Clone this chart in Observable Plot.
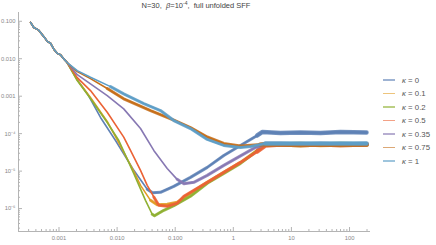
<!DOCTYPE html>
<html><head><meta charset="utf-8">
<style>
body{margin:0;background:#fff}
#wrap{position:relative;width:436px;height:245px;font-family:"Liberation Sans",Arial,sans-serif}
#title{position:absolute;left:0;width:392px;top:1px;text-align:center;font-size:7.5px;color:#444;white-space:pre}
#title sup{font-size:5px;vertical-align:3px;line-height:0}
.leg{position:absolute;left:383px;height:10px;font-size:7.8px;color:#555;display:flex;align-items:center;white-space:pre}
.leg .sw{width:12px;height:1.5px;margin-right:7px;opacity:0.6}
#chart{position:absolute;left:0;top:0}
</style>
<script src="https://cdn.jsdelivr.net/npm/d3@7"></script>
<script src="https://cdn.jsdelivr.net/npm/@observablehq/plot@0.6"></script>
</head><body>
<div id="wrap">
<div id="chart"></div>
<div id="title">N=30,  <i>β</i>=10<sup>-4</sup>,  full unfolded SFF</div>
<div id="legend"></div>
</div>
<script>
// ---- data ----
const kappas = ["0", "0.1", "0.2", "0.5", "0.35", "0.75", "1"];
const colors = ["#5E81B5", "#E19C24", "#8FB032", "#EB6235", "#8778B3", "#C56E1A", "#5D9EC7"];

// shared early-time part (all curves coincide)
const tCommon = [3.24e-4, 3.68e-4, 4.39e-4, 4.81e-4, 5.70e-4, 6.27e-4, 7.14e-4, 8.14e-4, 9.31e-4, 1.06e-3, 1.21e-3, 1.38e-3];
const sCommon = [0.093, 0.068, 0.059, 0.050, 0.036, 0.029, 0.026, 0.018, 0.0139, 0.0128, 0.0099, 0.0079];

const tK0   = [2.06e-3, 3.22e-3, 5.18e-3, 9.39e-3, 1.94e-2, 3.30e-2, 4.07e-2, 5.58e-2, 9.46e-2, 0.183, 0.356, 0.686, 1.33, 2.58, 3.18, 6.49, 14.3, 31.7, 70, 196];
const sK0   = [2.77e-3, 1.04e-3, 2.70e-4, 6.58e-5, 1.05e-5, 3.27e-6, 2.63e-6, 2.72e-6, 3.93e-6, 6.81e-6, 1.26e-5, 2.62e-5, 4.85e-5, 8.94e-5, 1.11e-4, 1.04e-4, 1.07e-4, 1.04e-4, 1.11e-4, 1.07e-4];

const tK01  = [2.06e-3, 3.48e-3, 6.76e-3, 1.016e-2, 1.94e-2, 2.53e-2, 3.76e-2, 4.90e-2, 7.28e-2, 0.108, 0.183, 0.356, 0.686, 1.33, 3.58, 6.49, 14.3, 31.7, 70, 196];
const sK01  = [2.69e-3, 9.19e-4, 2.11e-4, 6.58e-5, 9.85e-6, 4.17e-6, 1.66e-6, 1.26e-6, 1.30e-6, 1.47e-6, 2.55e-6, 5.01e-6, 9.26e-6, 1.71e-5, 5.15e-5, 5.15e-5, 5.31e-5, 5.0e-5, 5.15e-5, 5.15e-5];

const tK02  = [2.06e-3, 3.48e-3, 6.76e-3, 1.07e-2, 1.94e-2, 3.08e-2, 4.02e-2, 4.40e-2, 6.37e-2, 9.46e-2, 0.183, 0.356, 0.686, 1.33, 3.58, 6.49, 14.3, 31.7, 70, 196];
const sK02  = [2.61e-3, 8.64e-4, 1.99e-4, 6.58e-5, 8.55e-6, 1.66e-6, 7.05e-7, 6.43e-7, 9.01e-7, 1.19e-6, 2.13e-6, 4.72e-6, 8.71e-6, 1.61e-5, 5.15e-5, 5.15e-5, 5.0e-5, 5.15e-5, 5.31e-5, 5.15e-5];

const tK05  = [2.06e-3, 3.48e-3, 6.76e-3, 1.30e-2, 1.70e-2, 2.53e-2, 3.30e-2, 4.28e-2, 5.22e-2, 7.28e-2, 0.108, 0.141, 0.356, 0.686, 1.33, 2.58, 3.58, 6.49, 14.3, 31.7, 70, 196];
const sK05  = [3.13e-3, 1.41e-3, 3.73e-4, 8.06e-5, 3.57e-5, 1.05e-5, 4.17e-6, 2.04e-6, 1.22e-6, 1.15e-6, 1.38e-6, 2.13e-6, 5.01e-6, 9.26e-6, 1.71e-5, 3.35e-5, 4.85e-5, 5.15e-5, 5.0e-5, 5.15e-5, 5.0e-5, 5.15e-5];

const tK035 = [2.06e-3, 3.48e-3, 6.76e-3, 1.30e-2, 2.53e-2, 4.28e-2, 7.28e-2, 0.108, 0.141, 0.209, 0.356, 0.686, 1.33, 2.58, 3.58, 6.49, 14.3, 31.7, 70, 196];
const sK035 = [3.76e-3, 2.13e-3, 1.04e-3, 4.59e-4, 1.37e-4, 3.57e-5, 1.18e-5, 6.03e-6, 4.63e-6, 5.01e-6, 7.70e-6, 1.42e-5, 2.55e-5, 4.56e-5, 5.31e-5, 5.31e-5, 5.15e-5, 5.31e-5, 5.15e-5, 5.31e-5];

const tK075 = [2.06e-3, 3.48e-3, 6.76e-3, 1.30e-2, 3.76e-2, 9.46e-2, 0.183, 0.356, 0.686, 1.33, 2.94, 6.49, 14.3, 31.7, 70, 196];
const sK075 = [4.52e-3, 2.94e-3, 1.60e-3, 8.49e-4, 4.14e-4, 2.31e-4, 1.46e-4, 8.16e-5, 5.48e-5, 4.70e-5, 5.15e-5, 5.15e-5, 5.0e-5, 5.15e-5, 5.0e-5, 5.15e-5];

const tK1   = [2.06e-3, 3.48e-3, 7.70e-3, 1.30e-2, 2.88e-2, 5.58e-2, 9.46e-2, 0.183, 0.356, 0.686, 1.33, 1.98, 3.58, 6.49, 14.3, 31.7, 70, 196];
const sK1   = [4.81e-3, 3.19e-3, 1.80e-3, 1.15e-3, 6.36e-4, 4.14e-4, 2.24e-4, 1.37e-4, 7.00e-5, 4.85e-5, 4.29e-5, 4.56e-5, 5.48e-5, 5.48e-5, 5.48e-5, 5.48e-5, 5.48e-5, 5.48e-5];

const seriesT = [tK0, tK01, tK02, tK05, tK035, tK075, tK1];
const seriesS = [sK0, sK01, sK02, sK05, sK035, sK075, sK1];

const xTicks = [0.001, 0.01, 0.1, 1, 10, 100];
const xTickLabels = ["0.001", "0.010", "0.100", "1", "10", "100"];
const yTicks = [0.1, 0.01, 0.001, 1e-4, 1e-5, 1e-6];
const yTickLabels = ["0.100", "0.010", "0.001", "10⁻⁴", "10⁻⁵", "10⁻⁶"];

// ---- styling ----
const noisyFrom = [0.03, 0.035, 0.035, 0.04, 0.1, 0.005, 0.004];
const plateauFrom = 2.5;
const xDomain = [10 ** -3.697, 10 ** 2.361];
const yDomain = [10 ** -6.612, 10 ** -0.766];

const rows = kappas.map((k, i) => {
  const t = tCommon.concat(seriesT[i]);
  const s = sCommon.concat(seriesS[i]);
  return t.map((tv, j) => ({t: tv, s: s[j], k, i}));
});

function minorTicks(lo, hi) {
  const out = [];
  for (let e = Math.floor(Math.log10(lo)); e <= Math.ceil(Math.log10(hi)); e++)
    for (let m = 2; m <= 9; m++) { const v = m * 10 ** e; if (v >= lo && v <= hi) out.push(v); }
  return out;
}

const marks = [];
rows.forEach((r, i) => {
  marks.push(Plot.line(r, {x: "t", y: "s", stroke: "k", strokeWidth: 1.6}));
  marks.push(Plot.line(r.filter(d => d.t >= noisyFrom[i]), {x: "t", y: "s", stroke: "k", strokeWidth: 3, strokeOpacity: 0.85}));
  marks.push(Plot.line(r.filter(d => d.t >= plateauFrom), {x: "t", y: "s", stroke: "k", strokeWidth: 4.5, strokeOpacity: 0.85}));
});

const axisColor = "#b4b4b4";
const labelColor = "#888";

const chart = Plot.plot({
  width: 436, height: 245,
  marginLeft: 18, marginRight: 66, marginTop: 12, marginBottom: 14,
  style: {fontFamily: "'Liberation Sans', Arial, sans-serif", fontSize: "5.8px", background: "#fff"},
  x: {type: "log", domain: xDomain, label: null, axis: null},
  y: {type: "log", domain: yDomain, label: null, axis: null},
  color: {domain: kappas, range: colors},
  marks: [
    Plot.ruleY([yDomain[0]], {stroke: axisColor}),
    Plot.ruleX([xDomain[0]], {stroke: axisColor}),
    Plot.axisX({ticks: xTicks, tickSize: 4, dy: -4, tickFormat: () => "", stroke: axisColor, label: null}),
    Plot.axisX({ticks: minorTicks(...xDomain), tickSize: 2, dy: -2, tickFormat: () => "", stroke: axisColor, label: null}),
    Plot.axisY({ticks: yTicks, tickSize: 4, dx: 4, tickFormat: () => "", stroke: axisColor, label: null}),
    Plot.axisY({ticks: minorTicks(...yDomain), tickSize: 2, dx: 2, tickFormat: () => "", stroke: axisColor, label: null}),
    Plot.text(xTicks, {x: d => d, frameAnchor: "bottom", dy: 8, text: (d, i) => xTickLabels[i], fill: labelColor}),
    Plot.text(yTicks, {y: d => d, frameAnchor: "left", dx: -3, textAnchor: "end", text: (d, i) => yTickLabels[i], fill: labelColor}),
    ...marks
  ]
});
document.getElementById("chart").appendChild(chart);

// legend
const legend = document.getElementById("legend");
kappas.forEach((k, i) => {
  const row = document.createElement("div");
  row.className = "leg";
  row.style.top = (75 + i * 13.5) + "px";
  row.innerHTML = `<span class="sw" style="background:${colors[i]}"></span><span><i>κ</i> = ${k}</span>`;
  legend.appendChild(row);
});
</script>
</body></html>
